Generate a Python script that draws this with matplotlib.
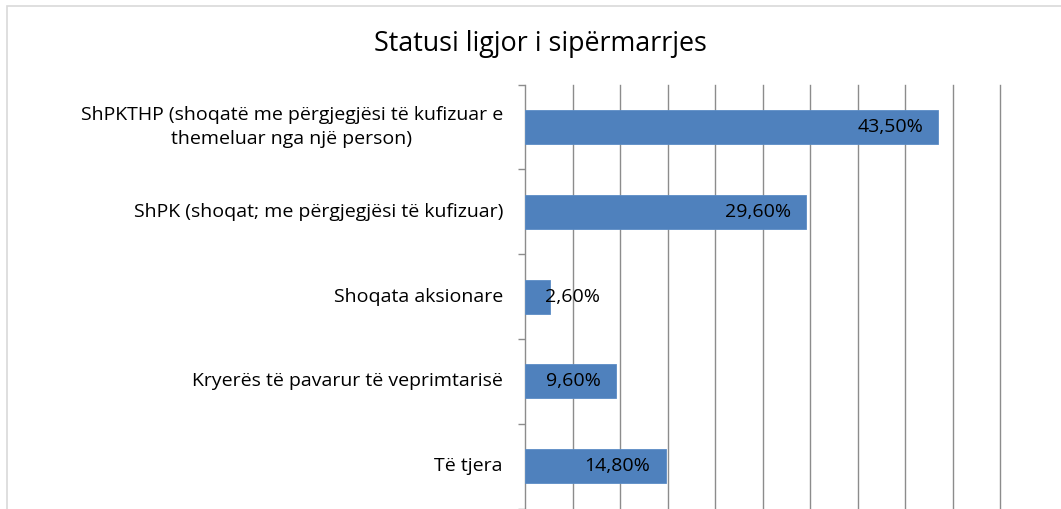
import matplotlib
matplotlib.use("Agg")
import matplotlib.pyplot as plt
from matplotlib.patches import Rectangle

plt.rcParams['font.family'] = ['Open Sans', 'DejaVu Sans']

title = "Statusi ligjor i sipërmarrjes"
categories = [
    "ShPKTHP (shoqatë me përgjegjësi të kufizuar e\nthemeluar nga një person)",
    "ShPK (shoqat; me përgjegjësi të kufizuar)",
    "Shoqata aksionare",
    "Kryerës të pavarur të veprimtarisë",
    "Të tjera",
]
values = [43.5, 29.6, 2.6, 9.6, 14.8]
value_labels = ["43,50%", "29,60%", "2,60%", "9,60%", "14,80%"]

W, H = 1061, 509
fig = plt.figure(figsize=(W / 100, H / 100), dpi=100)
fig.patch.set_facecolor("white")

# light frame (top and left edges visible)
fig.add_artist(Rectangle((7 / W, -0.05), 1.2, 1.05 - 6 / H, transform=fig.transFigure,
                         fill=False, edgecolor="#d9d9d9", linewidth=1.2))

ax = fig.add_axes([525 / W, 1 - 508.5 / H, (1000 - 525) / W, (508.5 - 84.6) / H])
n = len(categories)
ypos = list(range(n))
ax.barh(ypos, values, height=0.4, color="#4F81BD", edgecolor="#5b8cc6", linewidth=0.6, zorder=3)
ax.set_ylim(n - 0.5, -0.5)
ax.set_xlim(0, 50)

ax.set_xticks([5 * i for i in range(1, 11)])
ax.xaxis.grid(True, color="#8c8c8c", linewidth=1.0, zorder=0)
for gl in ax.get_xgridlines():
    gl.set_clip_on(False)
ax.tick_params(axis="x", length=0, labelbottom=False)

ax.set_yticks(ypos)
ax.set_yticklabels([])
ax.tick_params(axis="y", length=0, pad=0)
for i, c in enumerate(categories):
    ax.text(-22 / (1000 - 525), i, c, transform=ax.get_yaxis_transform(), ha="right", va="center",
            fontsize=14, multialignment="center", linespacing=1.45, color="#000000")

# tick marks at category boundaries
ax.set_yticks([i - 0.5 for i in range(n + 1)], minor=True)
ax.tick_params(axis="y", which="minor", length=5, color="#8c8c8c", width=1.0, direction="out")

for s in ["top", "right", "bottom"]:
    ax.spines[s].set_visible(False)
ax.spines["left"].set_color("#8c8c8c")
ax.spines["left"].set_linewidth(1.0)

for i, (v, t) in enumerate(zip(values, value_labels)):
    x = max(v - 1.6, 7.9)
    ax.text(x, i, t, ha="right", va="center", fontsize=14, color="#000000", zorder=4)

fig.text(540 / W, 1 - 44 / H, title, ha="center", va="center", fontsize=19.4, color="#000000")

fig.savefig("out.png", dpi=100)
